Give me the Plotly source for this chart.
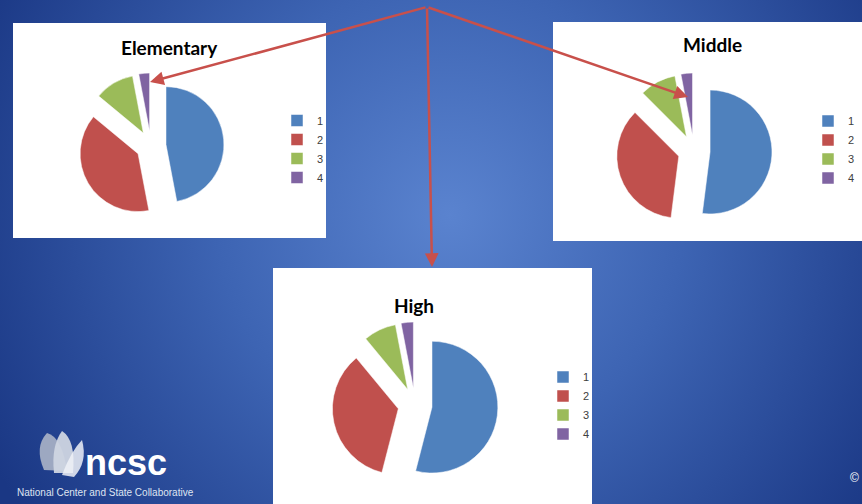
import base64
import plotly.graph_objects as go

W, H = 862, 504

# ---- data ----
labels = ["1", "2", "3", "4"]
elementary = [47, 39, 11, 3]
middle = [52, 35.5, 9.5, 3]
high = [54, 35, 8, 3]
titles = ["Elementary", "Middle", "High"]
colors = ["#4f81bd", "#c0504d", "#9bbb59", "#8064a2"]

def px(x):
    return x / W

def py(y):
    return 1 - y / H

# background radial gradient as svg
svg = f"""<svg xmlns='http://www.w3.org/2000/svg' width='{W}' height='{H}'>
<defs><radialGradient id='g' cx='450' cy='215' r='520' gradientUnits='userSpaceOnUse'>
<stop offset='0' stop-color='#5a83cf'/><stop offset='0.45' stop-color='#3d64b3'/>
<stop offset='1' stop-color='#1a3784'/></radialGradient></defs>
<rect width='{W}' height='{H}' fill='url(#g)'/></svg>"""
bg = "data:image/svg+xml;base64," + base64.b64encode(svg.encode()).decode()

fig = go.Figure()

pies = [
    (elementary, (78, 224), (73, 219), "legend"),
    (middle, (616, 772), (73, 229), "legend2"),
    (high, (332, 498), (322, 488), "legend3"),
]
for k, (vals, (x0, x1), (y0, y1), lg) in enumerate(pies):
    # zero-width suffix keeps each chart's legend entries separate (pie labels are shared otherwise)
    lab = [l + "\u200b" * k for l in labels]
    fig.add_trace(go.Pie(
        labels=lab, values=vals, sort=False, direction="clockwise", rotation=0,
        pull=[0.26] * 4, textinfo="none", hoverinfo="label+value",
        marker=dict(colors=colors, line=dict(color="white", width=0.5)),
        domain=dict(x=[px(x0), px(x1)], y=[py(y1), py(y0)]),
        legend=lg, showlegend=True,
    ))

legfont = dict(family="Liberation Sans, Arial", size=11, color="#404040")
leg_common = dict(font=legfont, bgcolor="rgba(0,0,0,0)", xanchor="left", yanchor="top",
                  itemclick=False, itemdoubleclick=False)

shapes = []
for (x0, y0, x1, y1) in [(13, 23, 326, 238), (553, 22, 862, 241), (273, 268, 592, 504)]:
    shapes.append(dict(type="rect", xref="paper", yref="paper",
                       x0=px(x0), x1=px(x1), y0=py(y1), y1=py(y0),
                       fillcolor="white", line=dict(width=0), layer="below"))

# logo petals
petals = [
    ("M 44 470 Q 34 447 47 433 Q 62 437 67 471 Z", "#a4aec4", 0.95),
    ("M 54 473 Q 51 446 62 431 Q 76 440 73 473 Z", "#cfd5e2", 0.95),
    ("M 62 475 Q 71 451 82 440 Q 88 462 74 477 Z", "#eef1f7", 0.85),
]
for d, c, op in petals:
    toks = d.split()
    out = []
    i = 0
    while i < len(toks):
        t = toks[i]
        if t in ("M", "Q", "L", "Z"):
            out.append(t)
            i += 1
        else:
            xx = float(toks[i]); yy = float(toks[i + 1])
            out.append(f"{px(xx):.5f},{py(yy):.5f}")
            i += 2
    shapes.append(dict(type="path", xref="paper", yref="paper", path=" ".join(out),
                       fillcolor=c, opacity=op, line=dict(width=0), layer="above"))

annotations = []
title_pos = [(169, 47), (712, 44), (414, 305)]
for t, (x, y) in zip(titles, title_pos):
    annotations.append(dict(text=f"<b>{t}</b>", x=px(x), y=py(y), xref="paper", yref="paper",
                            showarrow=False, xanchor="center", yanchor="middle",
                            font=dict(family="Lato, Open Sans, sans-serif", size=19, color="#000000")))

# red arrows from a common apex
apex = (427, 7)
heads = [(150, 82), (688, 97), (432, 267)]
for hx, hy in heads:
    annotations.append(dict(text="", x=px(hx), y=py(hy), xref="paper", yref="paper",
                            ax=apex[0] - hx, ay=apex[1] - hy, axref="pixel", ayref="pixel",
                            showarrow=True, arrowhead=2, arrowsize=1.1, arrowwidth=2.5,
                            arrowcolor="#c8504b", standoff=0, startstandoff=0))

annotations.append(dict(text="<b>ncsc</b>", x=px(83), y=py(462), xref="paper", yref="paper",
                        showarrow=False, xanchor="left", yanchor="middle",
                        font=dict(family="Liberation Sans, Arial", size=36, color="white")))
annotations.append(dict(text="National Center and State Collaborative", x=px(15), y=py(492),
                        xref="paper", yref="paper", showarrow=False, xanchor="left", yanchor="middle",
                        font=dict(family="Liberation Sans, Arial", size=10, color="#dfe5f1")))
annotations.append(dict(text="©", x=px(848), y=py(478), xref="paper", yref="paper",
                        showarrow=False, xanchor="left", yanchor="middle",
                        font=dict(family="Liberation Sans, Arial", size=12, color="white")))

fig.update_layout(
    width=W, height=H, autosize=False,
    margin=dict(l=0, r=0, t=0, b=0, autoexpand=False),
    paper_bgcolor="#2a4c9c", plot_bgcolor="rgba(0,0,0,0)",
    images=[dict(source=bg, xref="paper", yref="paper", x=0, y=1, sizex=1, sizey=1,
                 sizing="stretch", layer="below", xanchor="left", yanchor="top")],
    shapes=shapes,
    annotations=annotations,
    legend=dict(x=px(277), y=py(106), **leg_common),
    legend2=dict(x=px(808), y=py(106.5), **leg_common),
    legend3=dict(x=px(543), y=py(362.5), **leg_common),
)

fig.write_html("out.html", config={"displayModeBar": False},
               post_script="document.body.style.margin='0';document.body.style.overflow='hidden';")
